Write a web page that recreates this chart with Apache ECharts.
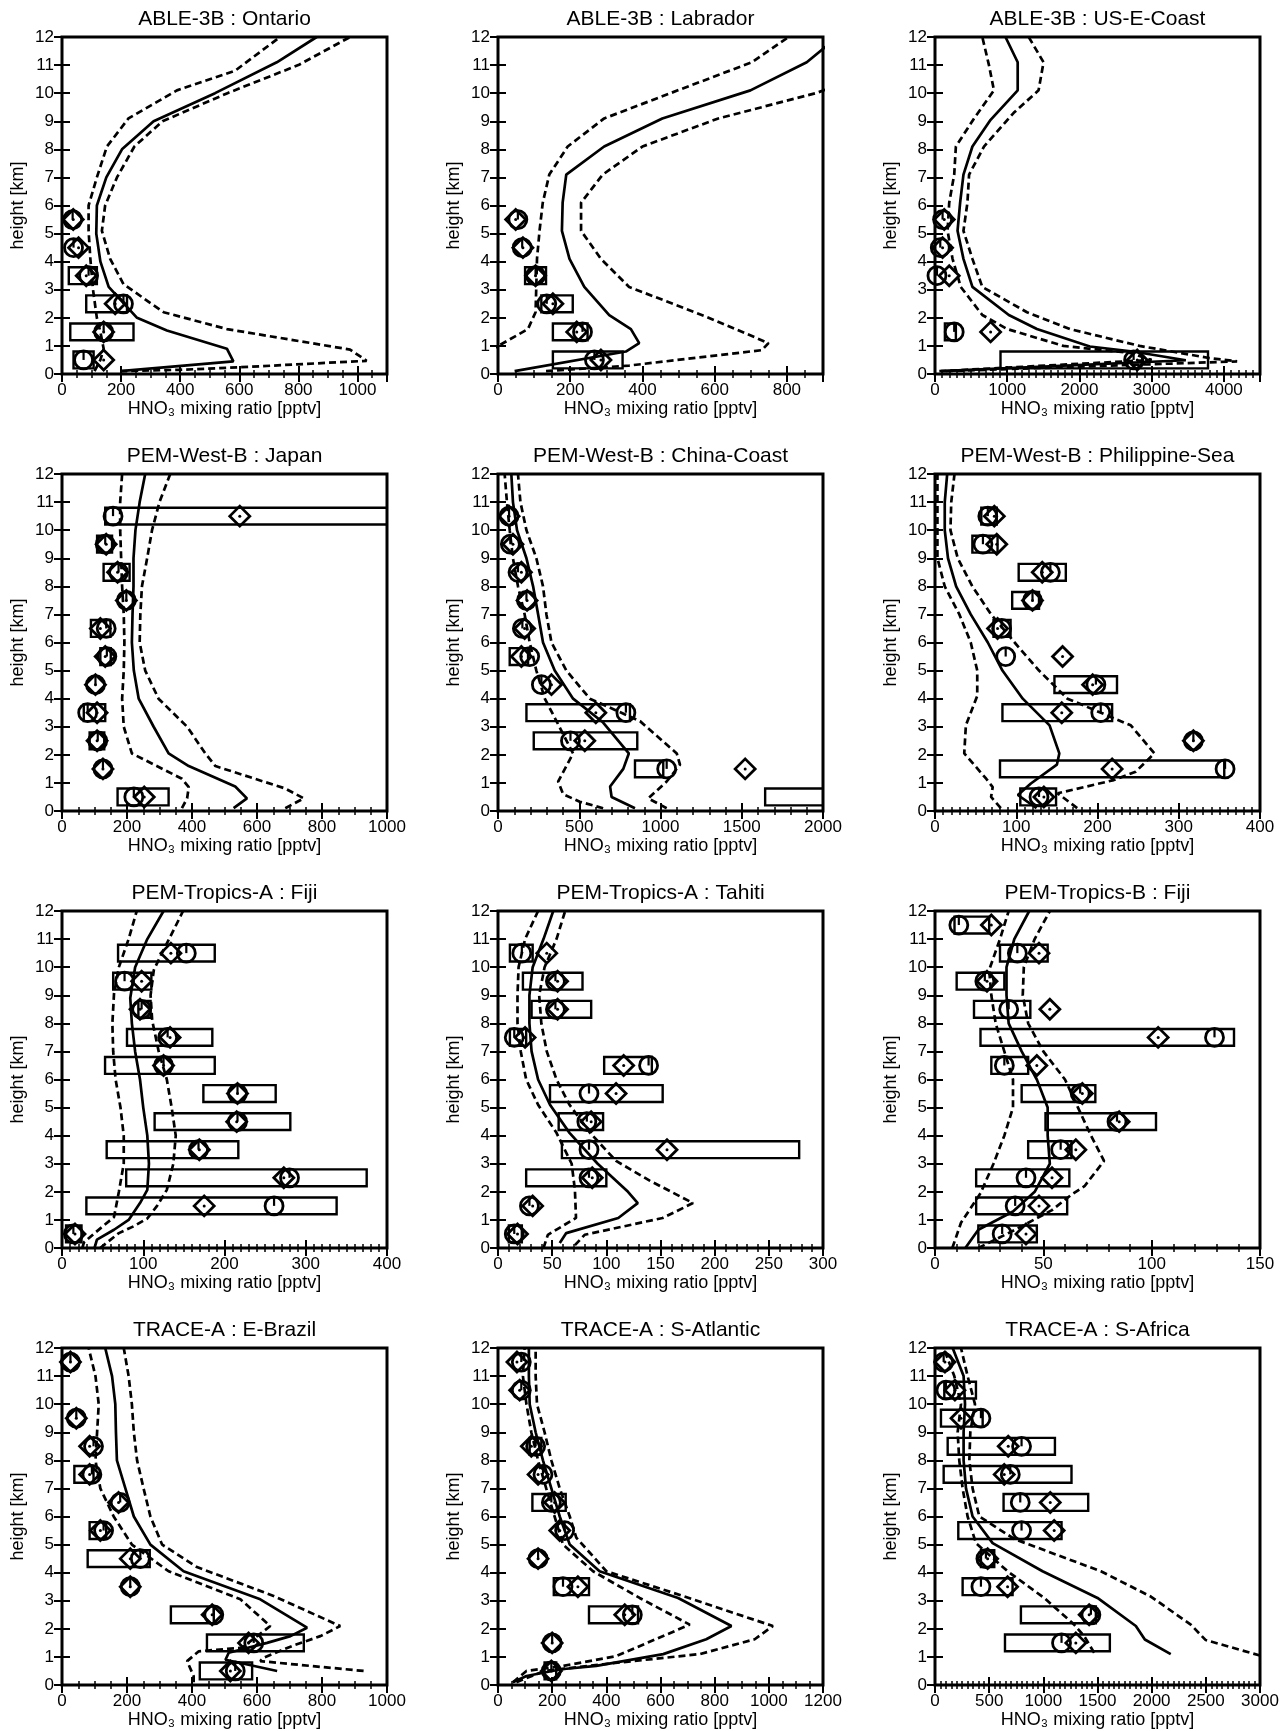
<!DOCTYPE html>
<html>
<head>
<meta charset="utf-8">
<title>HNO3 profiles</title>
<script src="https://cdn.jsdelivr.net/npm/echarts@6/dist/echarts.min.js"></script>
<style>
  html, body { margin: 0; padding: 0; background: #fff; }
  #main { width: 1288px; height: 1731px; }
</style>
</head>
<body>
<div id="main"></div>
<script>
// observation bins (km)
const obsHeights = [0.5, 1.5, 2.5, 3.5, 4.5, 5.5, 6.5, 7.5, 8.5, 9.5, 10.5, 11.5];

// panel titles and x axis setup
const panelTitles = [
  'ABLE-3B : Ontario', 'ABLE-3B : Labrador', 'ABLE-3B : US-E-Coast',
  'PEM-West-B : Japan', 'PEM-West-B : China-Coast', 'PEM-West-B : Philippine-Sea',
  'PEM-Tropics-A : Fiji', 'PEM-Tropics-A : Tahiti', 'PEM-Tropics-B : Fiji',
  'TRACE-A : E-Brazil', 'TRACE-A : S-Atlantic', 'TRACE-A : S-Africa'
];
const xMax = [1100, 900, 4500, 1000, 2000, 400, 400, 300, 150, 1000, 1200, 3000];
const xStep = [200, 200, 1000, 200, 500, 100, 100, 50, 50, 200, 200, 500];
const xMinor = [4, 4, 10, 4, 5, 10, 10, 5, 5, 4, 4, 10];

// ---- ABLE-3B : Ontario ----
const ontarioMean = [[197,0.1],[580,0.45],[558,0.9],[355,1.55],[254,2],[158,3.1],[130,4],[116,5],[118,6],[150,7],[203,8],[310,9],[518,10],[727,11.1],[862,12]];
const ontarioLow = [[110,0.1],[130,0.5],[141,0.9],[130,1.5],[118,2],[105,3],[96,4.1],[90,5.1],[90,6],[118,7],[152,8.1],[225,9.1],[389,10.1],[586,10.8],[738,12]];
const ontarioHigh = [[197,0.1],[400,0.15],[603,0.24],[1031,0.47],[975,0.87],[558,1.6],[344,2.2],[208,3.2],[163,4.1],[135,5.1],[146,6],[186,7],[245,8.1],[340,9],[560,10],[800,11],[975,12]];
const ontarioCircle = [73, 141, 208, 90, 39, 36];
const ontarioDiamond = [141, 141, 180, 82, 56, 38];
const ontarioBox = [[39,107],[28,242],[82,220],[23,118],null,null];

// ---- ABLE-3B : Labrador ----
const labradorMean = [[46,0.1],[354,0.8],[391,1.1],[368,1.6],[308,2.1],[239,3.1],[198,4.1],[177,5.1],[179,6.1],[189,7.1],[294,8.1],[455,9.1],[699,10.1],[855,11.1],[940,12]];
const labradorLow = [[-20,0.85],[83,1.6],[104,2.2],[106,3.1],[108,4.1],[115,5.1],[124,6.1],[142,7.1],[193,8.1],[294,9.1],[498,10.1],[703,11.1],[805,12]];
const labradorHigh = [[133,0.1],[363,0.3],[731,0.85],[749,1.1],[575,2.05],[363,3.1],[285,4.1],[230,5.1],[230,6.1],[290,7.1],[400,8.1],[610,9.1],[880,10],[1100,11],[1250,12]];
const labradorCircle = [267, 234, 135, 104, 67, 55];
const labradorDiamond = [285, 218, 152, 104, 69, 49];
const labradorBox = [[152,345],[152,248],[120,207],[75,133],null,null];

// ---- ABLE-3B : US-E-Coast ----
const coastMean = [[82,0.1],[3473,0.49],[2740,0.8],[2144,0.98],[1411,1.6],[1022,2.1],[518,3.1],[394,4.1],[312,5.1],[348,6.1],[394,7.1],[518,8.1],[770,9.05],[1145,10.1],[1145,11.1],[976,12]];
const coastLow = [[60,0.1],[3000,0.5],[2700,0.75],[1778,1.0],[1000,1.6],[655,2.1],[357,3.1],[243,4.1],[174,5.1],[197,6.1],[266,7.1],[289,8.1],[541,9.1],[816,10.1],[747,11],[655,12]];
const coastHigh = [[150,0.1],[4183,0.45],[3794,0.57],[2832,1.0],[1870,1.6],[1274,2.2],[655,3.1],[518,4.1],[394,5.1],[449,6.1],[472,7.1],[678,8.1],[1090,9.3],[1434,10.1],[1503,11.1],[1297,12]];
const coastCircle = [2750, 266, null, 27, 73, 105];
const coastDiamond = [2800, 770, null, 197, 105, 128];
const coastBox = [[907,3780],[137,289],null,null,null,null];

// ---- PEM-West-B : Japan ----
const japanMean = [[528,0.1],[569,0.45],[533,0.87],[390,1.6],[328,2.05],[282,3],[236,4],[221,5],[215,6],[217,7],[220,8],[220,9],[226,10],[239,11],[256,12]];
const japanLow = [[369,0.1],[385,0.45],[390,0.85],[369,1.15],[215,2.05],[190,3],[185,4],[190,5],[192,6],[190,7],[185,8],[182,9],[179,10],[179,11],[185,12]];
const japanHigh = [[687,0.1],[744,0.45],[687,0.8],[472,1.6],[441,2.05],[385,3],[297,4],[256,5],[239,6],[241,7],[246,8],[262,9],[277,10],[300,11],[333,12]];
const japanCircle = [221, 126, 110, 79, 103, 138, 136, 198, 174, 133, 157];
const japanDiamond = [253, 126, 108, 108, 103, 133, 118, 198, 171, 136, 547];
const japanBox = [[171,328],null,[85,130],[67,133],null,[118,150],[89,149],null,[128,208],[108,154],[133,1100]];

// ---- PEM-West-B : China-Coast ----
const chinaMean = [[843,0.1],[699,0.5],[690,0.87],[771,1.5],[805,2.05],[647,3.15],[462,4],[349,5],[277,6],[247,7],[216,8],[175,9],[117,10],[92,11],[82,12]];
const chinaLow = [[647,0.1],[503,0.33],[401,0.6],[370,1.05],[462,2.05],[360,3.2],[288,4],[236,5],[195,6],[164,7],[123,8],[92,9],[72,10],[55,11],[41,12]];
const chinaHigh = [[1038,0.1],[925,0.45],[1038,1.05],[1120,1.65],[1100,2.05],[874,3.2],[565,4],[421,5],[329,6],[298,7],[277,8],[236,9],[175,10],[138,11],[123,12]];
const chinaCircle = [null, 1038, 446, 787, 267, 195, 150, 175, 123, 76, 68];
const chinaDiamond = [null, 1521, 534, 602, 329, 144, 164, 179, 144, 92, 68];
const chinaBox = [[1644,2100],[843,1017],[220,857],[175,812],null,[72,185],null,null,null,null,null];

// ---- PEM-West-B : Philippine-Sea ----
const philMean = [[125,0.1],[102,0.57],[118,0.98],[150,1.65],[153,2.05],[141,3.05],[108,4],[83,5],[65,6],[44,7],[26,8],[16,9],[12,10],[12,11],[15,12]];
const philLow = [[81,0.1],[69,0.5],[71,0.85],[63,1.15],[36,2.05],[38,3.05],[52,4.1],[52,5],[44,6],[30,7],[12,8],[3,9],[3,10],[3,11],[3,12]];
const philHigh = [[175,0.1],[151,0.63],[220,1.1],[247,1.4],[270,2.05],[241,3.05],[163,4],[128,5],[98,6],[69,7],[46,8],[28,9],[19,10],[20,11],[24,12]];
const philCircle = [128, 357, 318, 204, 198, 87, 82, 120, 142, 59, 65];
const philDiamond = [134, 218, 318, 156, 194, 157, 77, 120, 132, 76, 73];
const philBox = [[105,149],[80,356],null,[83,218],[147,224],null,[72,93],[95,128],[103,161],[46,77],[57,76]];

// ---- PEM-Tropics-A : Fiji ----
const fijiAMean = [[40,0],[43,0.3],[64,0.65],[82,1.0],[96,1.6],[105,2.07],[107,3],[105,4],[100,5],[96,6],[90,7],[86,8],[84,8.9],[90,10],[105,11],[125,12]];
const fijiALow = [[25,0],[27,0.2],[41,0.55],[64,1.1],[70,2],[76,3],[76,4],[72,5],[66,6],[63,7],[62,8],[64,9.05],[70,10],[82,11],[92,12]];
const fijiAHigh = [[47,0],[70,0.53],[88,0.77],[105,1.05],[117,1.5],[129,2.07],[137,3],[140,4],[135,5],[129,6],[119,7],[111,8.1],[109,9],[113,9.9],[123,10.5],[137,11.3],[149,12]];
const fijiACircle = [14, 261, 280, 168, 216, 216, 125, 130, 98, 77, 153];
const fijiADiamond = [16, 175, 273, 169, 215, 216, 125, 133, 96, 98, 134];
const fijiABox = [[5,24],[30,338],[79,375],[55,217],[114,281],[174,263],[53,188],[80,185],[94,109],[63,110],[69,188]];

// ---- PEM-Tropics-A : Tahiti ----
const tahitiMean = [[57,0.18],[63,0.53],[111,1.07],[129,1.6],[120,2],[92,3],[66,4.1],[48,5.1],[37,6],[31,7],[29,8],[29,9],[32,10],[42,11],[51,12]];
const tahitiLow = [[42,0],[46,0.47],[72,1.07],[71,2.07],[68,3],[54,4.1],[37,5.1],[26,6],[21,7],[18,8],[18,9],[19,10],[25,11],[37,12]];
const tahitiHigh = [[71,0.1],[80,0.47],[152,1.07],[180,1.6],[140,2.4],[109,3.1],[85,4.1],[66,5.1],[54,6],[45,7],[40,8],[38,9],[43,10],[54,11],[62,12]];
const tahitiCircle = [15, 29, 84, 84, 82, 84, 139, 15, 53, 53, 22];
const tahitiDiamond = [18, 32, 87, 156, 86, 109, 116, 25, 55, 55, 45];
const tahitiBox = [[10,22],null,[26,100],[59,278],[56,97],[48,152],[98,142],[11,26],[31,86],[23,78],[11,32]];

// ---- PEM-Tropics-B : Fiji ----
const fijiBMean = [[14,0],[20,0.65],[36,1.3],[46,2],[53,3],[52,4],[52,5],[47,6],[40,7],[34,8],[33,9],[33,10],[36.6,11],[43.5,12]];
const fijiBLow = [[8,0],[12,0.9],[21,1.95],[27,3],[32,4],[36,5],[36,6],[32,7],[28,8],[26,9],[25,9.9],[30,11],[34,12]];
const fijiBHigh = [[20,0],[37,0.65],[54,1.35],[63,1.9],[69,2.2],[78,3.1],[72,4],[66,5],[60,6],[50,7],[43,8],[40.5,9],[41,10],[46,11],[53,12]];
const fijiBCircle = [31, 37, 42, 58, 84, 67, 32, 129, 34, 23, 38, 11];
const fijiBDiamond = [42, 48, 54, 65, 85, 68, 47, 103, 53, 24, 48, 26];
const fijiBBox = [[20,47],[19,61],[19,62],[43,63],[51,102],[40,74],[26,43],[21,138],[18,44],[10,32],[30,52],[9,25]];

// ---- TRACE-A : E-Brazil ----
const brazilMean = [[662,0.5],[503,0.9],[513,1.15],[631,1.5],[703,1.74],[754,2.04],[610,3.05],[374,4.05],[272,5],[221,6],[195,7],[169,8],[166,9],[164,10],[154,11],[133,12]];
const brazilLow = [[405,0.1],[405,0.32],[385,0.85],[421,1.2],[554,1.33],[641,2.1],[549,3.05],[328,4.05],[215,5],[159,6],[118,7],[103,8],[108,9],[113,10],[103,11],[82,12]];
const brazilHigh = [[928,0.5],[610,0.85],[620,0.97],[708,1.39],[795,1.74],[856,2.1],[651,3.17],[415,4.2],[308,5],[272,6],[251,7],[231,8],[221,9],[215,10],[205,11],[190,12]];
const brazilCircle = [533, 590, 467, 210, 241, 128, 179, 92, 97, 44, null, 26];
const brazilDiamond = [518, 574, 462, 210, 210, 118, 174, 85, 85, 44, null, 26];
const brazilBox = [[424,585],[446,744],[335,467],null,[79,270],[85,136],null,[38,97],null,null,null,null];

// ---- TRACE-A : S-Atlantic ----
const atlanticMean = [[55,0.1],[105,0.32],[234,0.56],[363,0.68],[610,1.1],[769,1.63],[862,2.1],[665,3.1],[375,4.05],[265,5],[228,6],[197,7],[166,8],[139,9],[117,10],[114,11],[114,12]];
const atlanticLow = [[55,0.1],[105,0.5],[240,0.68],[437,1.03],[708,2.15],[523,3.1],[351,4.05],[240,5],[209,6],[178,7],[148,8],[123,9],[105,10],[92,11],[98,12]];
const atlanticHigh = [[68,0.1],[172,0.5],[388,0.74],[745,1.1],[948,1.63],[1015,2.1],[683,3.17],[400,4.05],[289,5.25],[265,6],[228,7],[197,8],[172,9],[144,10],[139,11],[139,12]];
const atlanticCircle = [197, 200, 496, 240, 148, 246, 197, 166, 139, null, 86, 86];
const atlanticDiamond = [197, 200, 468, 295, 148, 228, 209, 148, 123, null, 80, 70];
const atlanticBox = [[172,215],null,[336,517],[206,336],null,null,[127,250],null,[117,160],null,null,null];

// ---- TRACE-A : S-Africa ----
const africaMean = [[2176,1.1],[1937,1.62],[1854,2.1],[1500,3.1],[993,4.05],[532,5.05],[347,6],[286,7],[264,8],[264,9],[277,10],[264,11],[163,12]];
const africaLow = [[1469,1.15],[1377,1.74],[1285,2.15],[1008,3.1],[670,4.05],[378,5.05],[301,6],[255,7],[224,8],[209,9],[240,10],[178,11],[80,12]];
const africaHigh = [[3000,1.05],[2499,1.6],[2361,2.15],[1992,3.15],[1531,4.05],[732,5.2],[409,6],[347,7],[317,8],[326,9],[369,10],[301,11],[240,12]];
const africaCircle = [null, 1168, 1439, 424, 470, 799, 787, 695, 799, 424, 101, 80];
const africaDiamond = [null, 1300, 1423, 670, 486, 1100, 1064, 639, 676, 240, 184, 92];
const africaBox = [null,[646,1614],[793,1485],[255,716],[424,547],[215,1168],[633,1414],[80,1260],[117,1107],[55,440],[86,378],null];

const panels = [
  [ontarioMean, ontarioLow, ontarioHigh, ontarioCircle, ontarioDiamond, ontarioBox],
  [labradorMean, labradorLow, labradorHigh, labradorCircle, labradorDiamond, labradorBox],
  [coastMean, coastLow, coastHigh, coastCircle, coastDiamond, coastBox],
  [japanMean, japanLow, japanHigh, japanCircle, japanDiamond, japanBox],
  [chinaMean, chinaLow, chinaHigh, chinaCircle, chinaDiamond, chinaBox],
  [philMean, philLow, philHigh, philCircle, philDiamond, philBox],
  [fijiAMean, fijiALow, fijiAHigh, fijiACircle, fijiADiamond, fijiABox],
  [tahitiMean, tahitiLow, tahitiHigh, tahitiCircle, tahitiDiamond, tahitiBox],
  [fijiBMean, fijiBLow, fijiBHigh, fijiBCircle, fijiBDiamond, fijiBBox],
  [brazilMean, brazilLow, brazilHigh, brazilCircle, brazilDiamond, brazilBox],
  [atlanticMean, atlanticLow, atlanticHigh, atlanticCircle, atlanticDiamond, atlanticBox],
  [africaMean, africaLow, africaHigh, africaCircle, africaDiamond, africaBox]
];

const FONT = "'Liberation Sans', Arial, Helvetica, sans-serif";
const gridLeft = [62, 498, 935];
const gridTop = [37, 474, 911, 1348];
const gridW = 325, gridH = 337;

// box spans +-0.3 km around the bin height
function renderBox(params, api) {
  const p0 = api.coord([api.value(0), api.value(2) - 0.3]);
  const p1 = api.coord([api.value(1), api.value(2) + 0.3]);
  return {
    type: 'rect',
    shape: { x: p0[0], y: p1[1], width: p1[0] - p0[0], height: p0[1] - p1[1] },
    style: { fill: 'none', stroke: '#000', lineWidth: 2.4 }
  };
}

function renderCircle(params, api) {
  const c = api.coord([api.value(0), api.value(1)]);
  const r = 9;
  return {
    type: 'group',
    children: [
      { type: 'circle', shape: { cx: c[0], cy: c[1], r: r }, style: { fill: 'none', stroke: '#000', lineWidth: 2.8 } },
      { type: 'line', shape: { x1: c[0], y1: c[1] - r, x2: c[0], y2: c[1] }, style: { stroke: '#000', lineWidth: 2.2 } }
    ]
  };
}

function renderDiamond(params, api) {
  const c = api.coord([api.value(0), api.value(1)]);
  const r = 10;
  return {
    type: 'group',
    children: [
      { type: 'polygon', shape: { points: [[c[0], c[1] - r], [c[0] + r, c[1]], [c[0], c[1] + r], [c[0] - r, c[1]]] },
        style: { fill: 'none', stroke: '#000', lineWidth: 2.8 } },
      { type: 'circle', shape: { cx: c[0], cy: c[1], r: 1.5 }, style: { fill: '#000' } }
    ]
  };
}

const grid = [], title = [], xAxis = [], yAxis = [], series = [];

panels.forEach(function (p, i) {
  const col = i % 3, row = Math.floor(i / 3);
  const left = gridLeft[col], top = gridTop[row];
  const step = xStep[i];

  grid.push({ left: left, top: top, width: gridW, height: gridH, show: true,
    borderColor: '#000', borderWidth: 3, backgroundColor: 'transparent' });

  title.push({ text: panelTitles[i], left: left + gridW / 2, top: top - 28, textAlign: 'center', padding: 0,
    textStyle: { fontFamily: FONT, fontSize: 21, fontWeight: 'normal', color: '#000' } });

  const xBase = { type: 'value', gridIndex: i, min: 0, max: xMax[i], interval: step,
    axisLine: { show: false }, splitLine: { show: false },
    axisTick: { show: true, inside: true, length: 8, lineStyle: { color: '#000', width: 2 } },
    minorTick: { show: true, splitNumber: xMinor[i], length: 4, lineStyle: { color: '#000', width: 1.5 } } };
  xAxis.push(Object.assign({}, xBase, { position: 'bottom',
    name: 'HNO\u2083 mixing ratio [pptv]', nameLocation: 'middle', nameGap: 22,
    nameTextStyle: { fontFamily: FONT, fontSize: 18, color: '#000' },
    axisLabel: { fontFamily: FONT, fontSize: 17, color: '#000', margin: 8,
      formatter: function (v) { return v % step === 0 ? String(v) : ''; } } }));
  xAxis.push(Object.assign({}, xBase, { position: 'top', axisLabel: { show: false } }));

  const yBase = { type: 'value', gridIndex: i, min: 0, max: 12, interval: 1,
    axisLine: { show: false }, splitLine: { show: false },
    axisTick: { show: true, inside: true, length: 8, lineStyle: { color: '#000', width: 2 } } };
  yAxis.push(Object.assign({}, yBase, { position: 'left',
    name: 'height [km]', nameLocation: 'middle', nameGap: 35,
    nameTextStyle: { fontFamily: FONT, fontSize: 18, color: '#000' },
    axisLabel: { fontFamily: FONT, fontSize: 17, color: '#000', margin: 8 } }));
  yAxis.push(Object.assign({}, yBase, { position: 'right', axisLabel: { show: false } }));

  const xi = 2 * i, yi = 2 * i;
  const mean = p[0], low = p[1], high = p[2], circ = p[3], diam = p[4], box = p[5];

  const boxData = [], circData = [], diamData = [];
  obsHeights.forEach(function (h, k) {
    if (box[k]) boxData.push([box[k][0], box[k][1], h]);
    if (circ[k] != null) circData.push([circ[k], h]);
    if (diam[k] != null) diamData.push([diam[k], h]);
  });

  series.push({ type: 'custom', xAxisIndex: xi, yAxisIndex: yi, clip: true, silent: true,
    renderItem: renderBox, encode: { x: [0, 1], y: 2 }, data: boxData, z: 3 });

  [[mean, 'solid'], [low, [7, 4]], [high, [7, 4]]].forEach(function (l) {
    series.push({ type: 'line', xAxisIndex: xi, yAxisIndex: yi, data: l[0], showSymbol: false, symbol: 'none',
      silent: true, clip: true, z: 4, lineStyle: { color: '#000', width: 2.7, type: l[1] } });
  });

  series.push({ type: 'custom', xAxisIndex: xi, yAxisIndex: yi, silent: true,
    renderItem: renderCircle, encode: { x: 0, y: 1 }, data: circData, z: 5 });
  series.push({ type: 'custom', xAxisIndex: xi, yAxisIndex: yi, silent: true,
    renderItem: renderDiamond, encode: { x: 0, y: 1 }, data: diamData, z: 5 });
});

const chart = echarts.init(document.getElementById('main'), null, { renderer: 'canvas' });
chart.setOption({
  backgroundColor: '#fff',
  animation: false,
  textStyle: { fontFamily: FONT },
  title: title,
  grid: grid,
  xAxis: xAxis,
  yAxis: yAxis,
  series: series
});
</script>
</body>
</html>
